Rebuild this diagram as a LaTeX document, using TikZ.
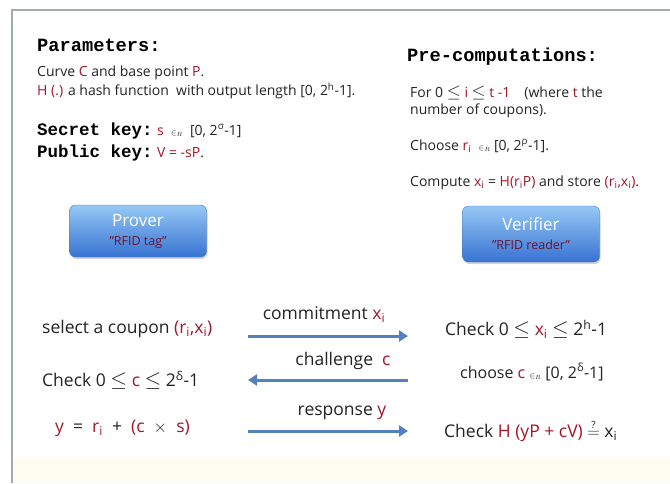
\documentclass[tikz,border=0pt]{standalone}
\usepackage{fontspec}
\setmainfont{Open Sans}
\setmonofont{Liberation Mono}
\usetikzlibrary{arrows.meta, positioning, shadows}
\definecolor{keyred}{RGB}{160,22,40}
\definecolor{inkgray}{RGB}{35,35,35}
\definecolor{framegray}{RGB}{165,170,178}
\definecolor{arrowblue}{RGB}{84,128,190}
\definecolor{btntop}{RGB}{150,200,245}
\definecolor{btnbot}{RGB}{55,115,210}
\definecolor{btnline}{RGB}{70,120,195}
\definecolor{tagred}{RGB}{110,20,50}
\definecolor{bandyellow}{RGB}{253,253,242}
\newcommand{\rd}[1]{\textcolor{keyred}{#1}}
\newcommand{\inR}{{\footnotesize$\in_{R}$}}
\newcommand{\lesym}{\ \scalebox{1.25}{$\leq$}\ }

\begin{document}
\begin{tikzpicture}[
    x=1pt, y=-1pt,
    head/.style={anchor=west, inner sep=0pt, text=black, font=\ttfamily\bfseries\fontsize{18.7}{21}\selectfont},
    txt/.style={anchor=west, inner sep=0pt, text=inkgray, font=\fontsize{14}{17}\selectfont},
    row/.style={inner sep=0pt, text=inkgray, font=\fontsize{17.5}{20}\selectfont},
    party/.style={rectangle, rounded corners=6pt, draw=btnline, top color=btntop, bottom color=btnbot, minimum width=137pt, minimum height=#1, align=center, font=\fontsize{17}{19}\selectfont, drop shadow={opacity=0.35, shadow xshift=1pt, shadow yshift=-2pt}},
    msg/.style={arrowblue, line width=3pt, -{Triangle[length=9pt,width=11pt]}}
]
\useasboundingbox (0,0) rectangle (670,483);
\fill[bandyellow] (12,458) rectangle (670,483);
\draw[framegray, line width=2pt] (12,483) -- (12,10) -- (670,10);

% parameters
\node[head] (params) at (37,45) {Parameters:};
\node[txt] (curve) at (37,73) {Curve \rd{C} and base point \rd{P}.};
\node[txt] (hash) at (37,91) {\rd{H (.)} a hash function\ \ with output length [0, 2\textsuperscript{h}-1].};
\node[head, font=\ttfamily\bfseries\fontsize{17.5}{20}\selectfont] (secret) at (37,131) {Secret key:};
\node[txt, right=4pt of secret] (sval) {\rd{s}\ \ \inR\ \ [0,\ 2\textsuperscript{σ}-1]};
\node[head, font=\ttfamily\bfseries\fontsize{17.5}{20}\selectfont] (public) at (37,153) {Public key:};
\node[txt, right=4pt of public] (pval) {\rd{V\ =\ -sP}.};

% pre-computations
\node[head] (precomp) at (407,57) {Pre-computations:};
\node[txt] (forall) at (410,93) {For 0\lesym\rd{i}\lesym\rd{t -1}\quad(where \rd{t} the};
\node[txt] (ncoup) at (410,111) {number of coupons).};
\node[txt] (chooser) at (410,146) {Choose \rd{r\textsubscript{i}}\ \ \inR\ [0, 2\textsuperscript{ρ}-1].};
\node[txt] (compute) at (410,183) {Compute \rd{x\textsubscript{i}} = \rd{H(r\textsubscript{i}P)} and store \rd{(r\textsubscript{i},x\textsubscript{i})}.};

% parties
\node[party=52pt] (prover) at (138,231) {\textcolor{white}{Prover}\\{\color{tagred}\fontsize{12.5}{14}\selectfont "RFID tag"}};
\node[party=56pt] (verifier) at (531,234) {\textcolor{white}{Verifier}\\{\color{tagred}\fontsize{12.5}{14}\selectfont "RFID reader"}};

% protocol
\node[row, anchor=west] (select) at (42,329) {select a coupon \rd{(r\textsubscript{i},x\textsubscript{i})}};
\node[row, anchor=west] (chkx) at (445,329) {Check 0\lesym\rd{x\textsubscript{i}}\lesym 2\textsuperscript{h}-1};
\coordinate (m1s) at (248,336);
\coordinate (m1e) at (408,336);
\draw[msg] (m1s) -- (m1e) node[row, midway, above=12pt, xshift=-4pt] (commit) {commitment \rd{x\textsubscript{i}}};

\node[row, anchor=west] (chkc) at (42,380) {Check 0\lesym\rd{c}\lesym 2\textsuperscript{δ}-1};
\node[row, anchor=west, font=\fontsize{16}{19}\selectfont] (choosec) at (460,372) {choose \rd{c}\ \inR\ [0, 2\textsuperscript{δ}-1]};
\coordinate (m2s) at (408,380);
\coordinate (m2e) at (248,380);
\draw[msg] (m2s) -- (m2e) node[row, midway, above=9pt, xshift=15pt] (chall) {challenge\ \ \rd{c}};

\node[row, anchor=west] (resp) at (55,428) {\rd{y}\ \ =\ \ \rd{r\textsubscript{i}}\ \ +\ \ \rd{(c}\ \ $\times$\ \ \rd{s)}};
\node[row, anchor=west] (chkh) at (444,431) {Check \rd{H (yP + cV)} $\stackrel{\mbox{\normalsize ?}}{=}$ x\textsubscript{i}};
\coordinate (m3s) at (248,431);
\coordinate (m3e) at (408,431);
\draw[msg] (m3s) -- (m3e) node[row, midway, above=10pt, xshift=14pt] (response) {response \rd{y}};
\end{tikzpicture}
\end{document}
